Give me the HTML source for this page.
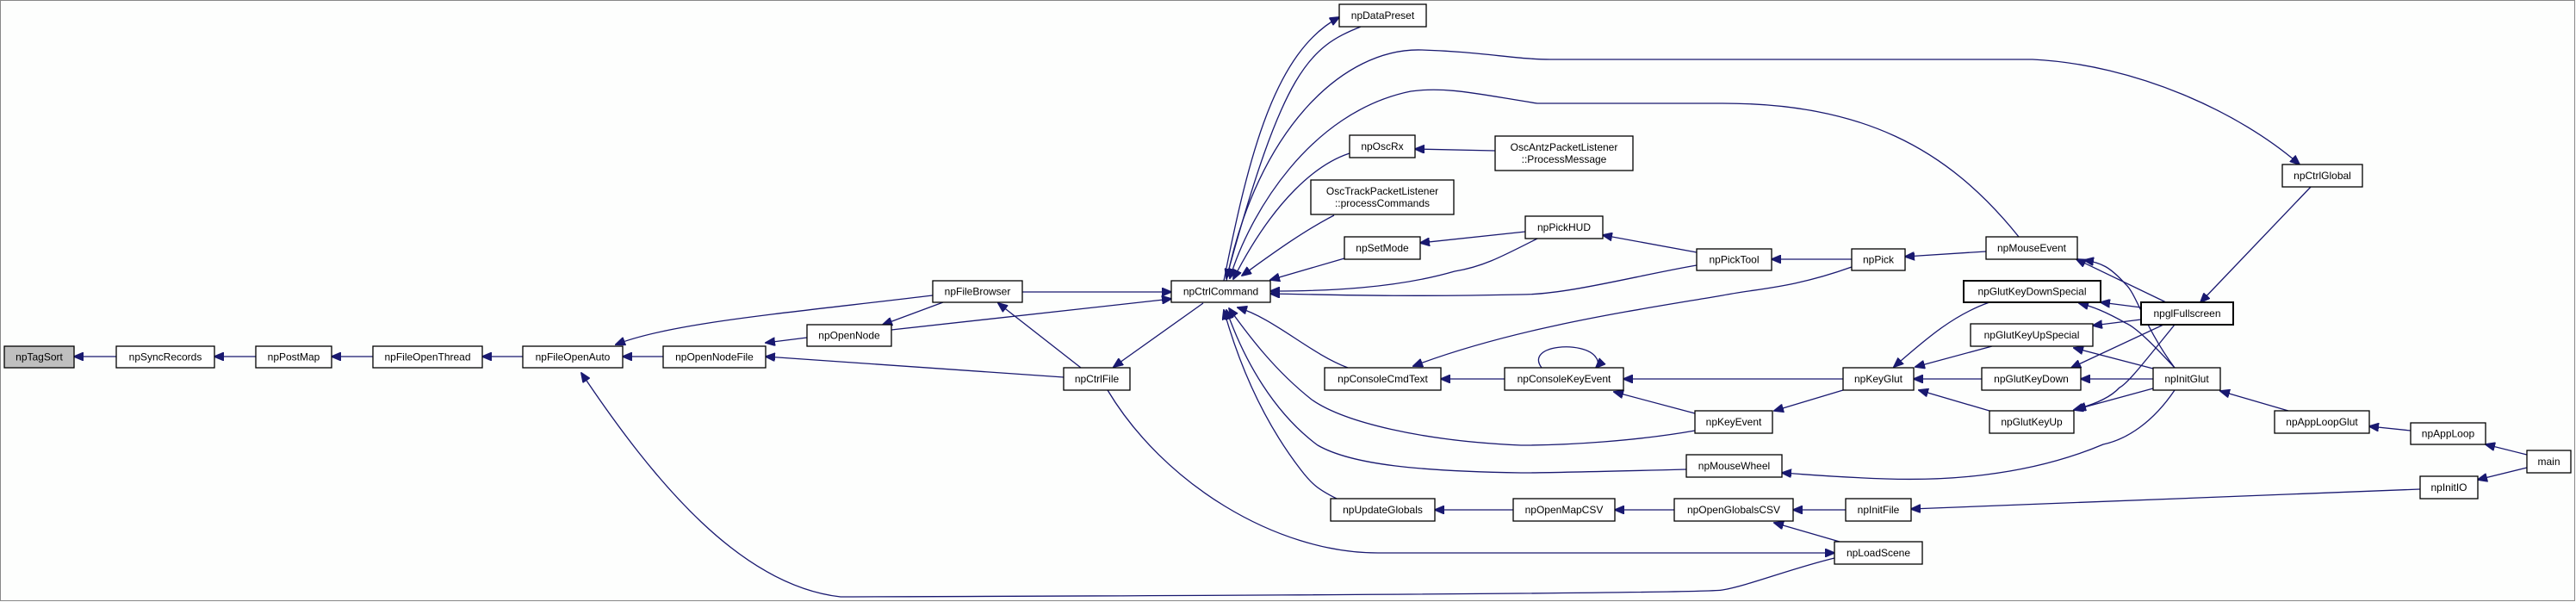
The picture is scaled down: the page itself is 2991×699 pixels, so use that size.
<!DOCTYPE html>
<html><head><meta charset="utf-8"><style>
html,body{margin:0;padding:0;background:#fdfefd;}
svg{display:block}
text{font-family:"Liberation Sans",Arial,sans-serif;font-size:12px;fill:#000;text-anchor:middle;dominant-baseline:central}
.n{fill:#fff;stroke:#000;stroke-width:1.3}
.e{fill:none;stroke:#191970;stroke-width:1.3}
</style></head><body>
<svg width="2991" height="699" viewBox="0 0 2991 699" xmlns="http://www.w3.org/2000/svg">
<defs><marker id="a" markerUnits="userSpaceOnUse" markerWidth="12" markerHeight="10" refX="11" refY="5" orient="auto"><path d="M0,0 L12,5 L0,10 z" fill="#191970" stroke="#191970"/></marker></defs>
<rect x="0.5" y="0.5" width="2989" height="697" fill="#fdfefd" stroke="#888" stroke-width="1"/>
<g class="e" marker-end="url(#a)">
<path d="M135,414 L86,414"/>
<path d="M297,414 L249,414"/>
<path d="M433,414 L385,414"/>
<path d="M607,414 L560,414"/>
<path d="M770,414 L723,414"/>
<path d="M1083,343 C900,365 780,375 715,400"/>
<path d="M2130,648 C2080,660 2030,680 2000,685 C1980,690 1000,693 976,693 C860,680 760,560 675,433"/>
<path d="M937,392 L889,398"/>
<path d="M1235,438 L889,414"/>
<path d="M1095,351 L1025,377"/>
<path d="M1035,383 L1360,347"/>
<path d="M1187,339 L1360,339"/>
<path d="M1255,427 L1159,352"/>
<path d="M1397,352 L1293,426"/>
<path d="M1286,453 C1350,560 1480,642 1600,642 L2130,642"/>
<path d="M1421,326 C1450,180 1480,60 1555,20"/>
<path d="M1580,31 C1520,55 1490,80 1424,323"/>
<path d="M1424,326 C1460,150 1560,55 1651,58 C1720,60 1760,69 1800,69 L2360,69 C2480,75 2600,130 2670,191"/>
<path d="M2344,275 C2260,170 2160,120 2000,120 L1785,120 C1720,110 1680,100 1638,106 C1520,130 1450,250 1428,323"/>
<path d="M1567,178 C1530,190 1480,230 1432,324"/>
<path d="M1549,250 C1510,270 1470,300 1442,320"/>
<path d="M1561,300 L1475,325"/>
<path d="M1771,269 L1649,282"/>
<path d="M1785,277 C1740,300 1720,310 1689,315 C1620,335 1540,338 1475,338"/>
<path d="M1970,293 L1861,273"/>
<path d="M1970,308 C1900,320 1820,342 1766,342 C1620,345 1540,342 1475,341"/>
<path d="M2150,301 L2057,301"/>
<path d="M2150,310 C2080,335 2040,335 2000,343 C1900,360 1760,380 1641,425"/>
<path d="M2306,292 L2212,298"/>
<path d="M1565,427 C1520,410 1480,370 1437,357"/>
<path d="M1747,440 L1673,440"/>
<path d="M1790,427 C1770,400 1840,395 1853,415 C1857,420 1855,425 1853,427"/>
<path d="M2140,440 L1885,440"/>
<path d="M1968,480 L1874,455"/>
<path d="M1968,500 C1900,512 1820,517 1766,517 C1650,512 1560,490 1523,464 C1480,430 1450,390 1427,358"/>
<path d="M1958,545 C1880,547 1800,549 1766,549 C1650,547 1570,540 1530,517 C1480,480 1445,420 1424,360"/>
<path d="M1552,579 C1530,568 1523,562 1510,545 C1460,480 1435,410 1421,360"/>
<path d="M1757,592 L1666,592"/>
<path d="M1944,592 L1875,592"/>
<path d="M2143,592 L2082,592"/>
<path d="M2136,629 L2060,607"/>
<path d="M2140,453 L2060,477"/>
<path d="M2310,351 C2270,365 2240,390 2199,426"/>
<path d="M2313,402 L2224,426"/>
<path d="M2301,440 L2222,440"/>
<path d="M2310,477 L2228,453"/>
<path d="M2486,357 L2439,351"/>
<path d="M2486,371 L2430,378"/>
<path d="M2512,377 L2405,427"/>
<path d="M2525,377 C2490,420 2470,446 2461,450 C2450,462 2430,470 2411,475"/>
<path d="M2515,351 L2411,301"/>
<path d="M2683,217 L2555,351"/>
<path d="M2525,427 C2490,380 2480,340 2468,330 C2450,310 2440,305 2420,302"/>
<path d="M2525,427 C2500,400 2480,380 2468,375 C2445,362 2430,356 2414,352"/>
<path d="M2500,428 L2408,404"/>
<path d="M2500,440 L2416,440"/>
<path d="M2500,451 L2408,476"/>
<path d="M2525,453 C2500,490 2470,510 2442,516 C2350,555 2250,558 2190,556 C2130,554 2100,551 2069,549"/>
<path d="M2657,477 L2578,454"/>
<path d="M2799,500 L2751,495"/>
<path d="M2934,528 L2886,516"/>
<path d="M2934,543 L2877,557"/>
<path d="M2810,568 L2219,591"/>
<path d="M1736,175 L1643,173"/>
</g>
<g>
<rect class="n" x="5" y="402" width="81" height="25" style="fill:#bfbfbf"/><text x="45.5" y="414.5">npTagSort</text>
<rect class="n" x="135" y="402" width="114" height="25"/><text x="192" y="414.5">npSyncRecords</text>
<rect class="n" x="297" y="402" width="88" height="25"/><text x="341" y="414.5">npPostMap</text>
<rect class="n" x="433" y="402" width="127" height="25"/><text x="496.5" y="414.5">npFileOpenThread</text>
<rect class="n" x="607" y="402" width="116" height="25"/><text x="665" y="414.5">npFileOpenAuto</text>
<rect class="n" x="770" y="402" width="119" height="25"/><text x="829.5" y="414.5">npOpenNodeFile</text>
<rect class="n" x="937" y="377" width="98" height="25"/><text x="986" y="389.5">npOpenNode</text>
<rect class="n" x="1555" y="5" width="101" height="26"/><text x="1605.5" y="18">npDataPreset</text>
<rect class="n" x="1567" y="157" width="76" height="26"/><text x="1605" y="170">npOscRx</text>
<rect class="n" x="1736" y="158" width="160" height="40"/><text x="1816" y="171">OscAntzPacketListener</text><text x="1816" y="185">::ProcessMessage</text>
<rect class="n" x="1522" y="209" width="166" height="40"/><text x="1605" y="222">OscTrackPacketListener</text><text x="1605" y="236">::processCommands</text>
<rect class="n" x="1771" y="251" width="90" height="26"/><text x="1816" y="264">npPickHUD</text>
<rect class="n" x="1561" y="275" width="88" height="26"/><text x="1605" y="288">npSetMode</text>
<rect class="n" x="1083" y="326" width="104" height="25"/><text x="1135" y="338.5">npFileBrowser</text>
<rect class="n" x="1360" y="326" width="115" height="25"/><text x="1417.5" y="338.5">npCtrlCommand</text>
<rect class="n" x="1235" y="427" width="77" height="26"/><text x="1273.5" y="440">npCtrlFile</text>
<rect class="n" x="1538" y="427" width="135" height="26"/><text x="1605.5" y="440">npConsoleCmdText</text>
<rect class="n" x="1747" y="427" width="138" height="26"/><text x="1816" y="440">npConsoleKeyEvent</text>
<rect class="n" x="1970" y="289" width="87" height="25"/><text x="2013.5" y="301.5">npPickTool</text>
<rect class="n" x="1968" y="477" width="90" height="26"/><text x="2013" y="490">npKeyEvent</text>
<rect class="n" x="1958" y="528" width="111" height="26"/><text x="2013.5" y="541">npMouseWheel</text>
<rect class="n" x="1545" y="579" width="121" height="26"/><text x="1605.5" y="592">npUpdateGlobals</text>
<rect class="n" x="1757" y="579" width="118" height="26"/><text x="1816" y="592">npOpenMapCSV</text>
<rect class="n" x="1944" y="579" width="138" height="26"/><text x="2013" y="592">npOpenGlobalsCSV</text>
<rect class="n" x="2650" y="191" width="93" height="26"/><text x="2696.5" y="204">npCtrlGlobal</text>
<rect class="n" x="2306" y="275" width="106" height="26"/><text x="2359" y="288">npMouseEvent</text>
<rect class="n" x="2150" y="289" width="62" height="25"/><text x="2181" y="301.5">npPick</text>
<rect class="n" x="2280" y="326" width="159" height="25" style="stroke-width:2"/><text x="2359.5" y="338.5">npGlutKeyDownSpecial</text>
<rect class="n" x="2486" y="351" width="107" height="26" style="stroke-width:2"/><text x="2539.5" y="364">npglFullscreen</text>
<rect class="n" x="2288" y="376" width="142" height="26"/><text x="2359" y="389">npGlutKeyUpSpecial</text>
<rect class="n" x="2140" y="427" width="82" height="26"/><text x="2181" y="440">npKeyGlut</text>
<rect class="n" x="2301" y="427" width="115" height="26"/><text x="2358.5" y="440">npGlutKeyDown</text>
<rect class="n" x="2500" y="427" width="78" height="26"/><text x="2539" y="440">npInitGlut</text>
<rect class="n" x="2310" y="477" width="98" height="26"/><text x="2359" y="490">npGlutKeyUp</text>
<rect class="n" x="2641" y="477" width="110" height="26"/><text x="2696" y="490">npAppLoopGlut</text>
<rect class="n" x="2799" y="491" width="87" height="25"/><text x="2842.5" y="503.5">npAppLoop</text>
<rect class="n" x="2934" y="523" width="51" height="26"/><text x="2959.5" y="536">main</text>
<rect class="n" x="2810" y="553" width="67" height="26"/><text x="2843.5" y="566">npInitIO</text>
<rect class="n" x="2143" y="579" width="76" height="26"/><text x="2181" y="592">npInitFile</text>
<rect class="n" x="2130" y="629" width="102" height="26"/><text x="2181" y="642">npLoadScene</text>
</g>
</svg>
</body></html>
